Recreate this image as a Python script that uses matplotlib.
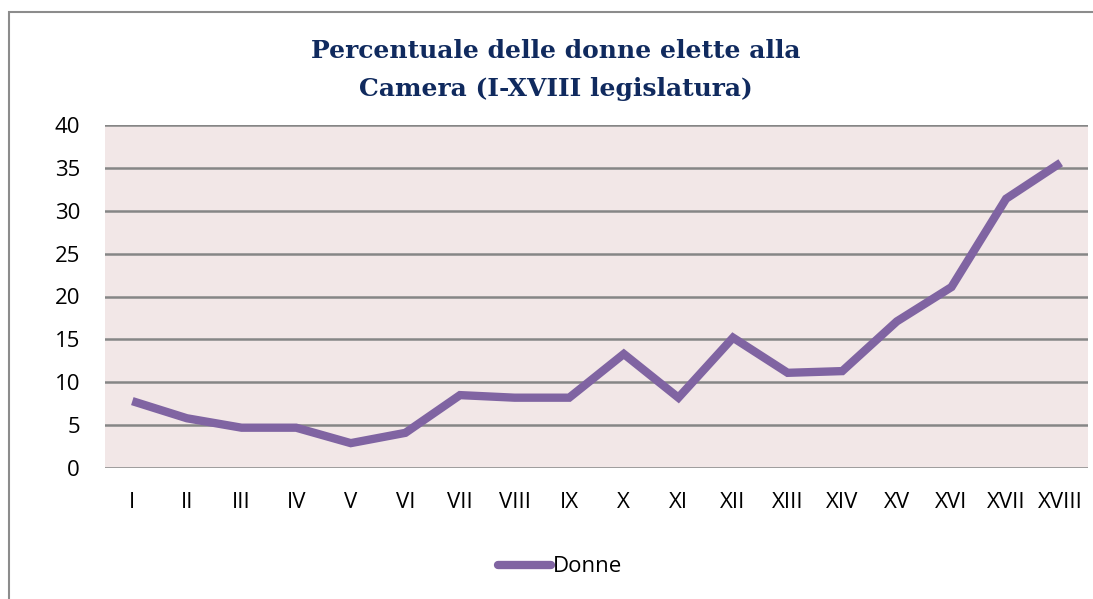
import numpy as np
import matplotlib.pyplot as plt
import matplotlib.patches as mpatches
from matplotlib.lines import Line2D

legislature = ["I", "II", "III", "IV", "V", "VI", "VII", "VIII", "IX", "X",
               "XI", "XII", "XIII", "XIV", "XV", "XVI", "XVII", "XVIII"]
donne = [7.8, 5.8, 4.7, 4.7, 2.9, 4.1, 8.5, 8.2, 8.2, 13.3,
         8.2, 15.2, 11.1, 11.3, 17.1, 21.1, 31.4, 35.6]
yticks = [0, 5, 10, 15, 20, 25, 30, 35, 40]

LINE_COL = "#8064A2"
BG_COL = "#F2E7E7"
GRID_COL = "#868686"
TITLE_COL = "#102A5E"

fig = plt.figure(figsize=(10.93, 5.99), dpi=100)
fig.patch.set_facecolor("white")

# outer chart border (runs off the right and bottom edge)
border = mpatches.Rectangle((8.5 / 1093, -0.1), 1.2, (599 - 11.5) / 599 + 0.1,
                            transform=fig.transFigure, fill=False,
                            edgecolor="#8c8c8c", linewidth=1.5)
fig.patches.append(border)

ax = fig.add_axes([105 / 1093, 131 / 599, 983 / 1093, 343 / 599])
ax.set_facecolor(BG_COL)

x = np.arange(len(legislature))
ax.plot(x, donne, color=LINE_COL, linewidth=6, solid_joinstyle="miter",
        solid_capstyle="butt", zorder=3)

ax.set_xlim(-0.5, len(legislature) - 0.5)
ax.set_ylim(0, 40)
ax.set_yticks(yticks)
ax.set_xticks(x)
ax.set_xticklabels(legislature)
for s in ax.spines.values():
    s.set_visible(False)
ax.yaxis.grid(True, color=GRID_COL, linewidth=1.8)
ax.set_axisbelow(True)
ax.tick_params(axis="both", length=0, labelsize=16, labelcolor="black")
ax.tick_params(axis="x", pad=17)
ax.tick_params(axis="y", pad=18)
for lab in ax.get_xticklabels() + ax.get_yticklabels():
    lab.set_fontfamily("Open Sans")

fig.text(556 / 1093, 1 - 70 / 599,
         "Percentuale delle donne elette alla\nCamera (I-XVIII legislatura)",
         ha="center", va="center", fontsize=18, fontweight="bold",
         family="DejaVu Serif", color=TITLE_COL, linespacing=1.7)

handle = Line2D([], [], color=LINE_COL, linewidth=6, solid_capstyle="round")
fig.legend([handle], ["Donne"], loc="center", bbox_to_anchor=(560 / 1093, 1 - 567 / 599),
           frameon=False, prop={"family": "Open Sans", "size": 16},
           handlelength=2.4, handletextpad=0.1)

fig.savefig("out.png", dpi=100)
